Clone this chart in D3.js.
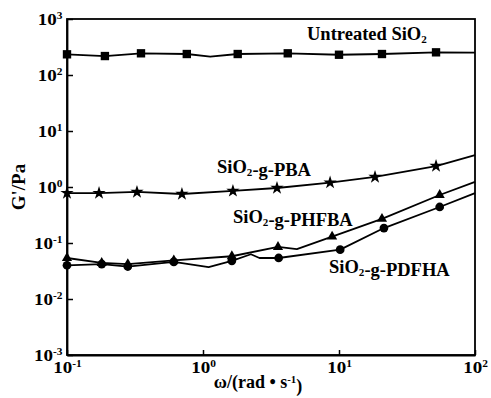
<!DOCTYPE html>
<html>
<head>
<meta charset="utf-8">
<script src="https://cdn.jsdelivr.net/npm/d3@7"></script>
<style>
  html, body { margin: 0; padding: 0; background: #fff; }
  svg { display: block; }
  text { font-family: "Liberation Serif", "DejaVu Serif", serif; fill: #000; }
</style>
</head>
<body>
<svg id="chart" width="491" height="398"></svg>
<script>
// ---- data ----
const xTicks = [0.1, 1, 10, 100];
const yTicks = [1e-3, 1e-2, 1e-1, 1, 10, 100, 1000];

// Untreated SiO2 (squares)
const untreatedOmega = [0.1, 0.19, 0.35, 0.76, 1.8, 4.2, 10, 20.7, 51.7];
const untreatedG     = [234, 218, 244, 237, 237, 244, 230, 237, 254];
const untreatedLineOmega = [1.13, 100];
const untreatedLineG     = [212, 250];

// SiO2-g-PBA (stars)
const pbaOmega = [0.1, 0.172, 0.327, 0.70, 1.66, 3.5, 8.6, 18.4, 51.7];
const pbaG     = [0.78, 0.78, 0.815, 0.75, 0.85, 0.96, 1.2, 1.51, 2.37];
const pbaLineOmega = [100];
const pbaLineG     = [3.72];

// SiO2-g-PHFBA (triangles)
const phfbaOmega = [0.1, 0.18, 0.28, 0.61, 1.63, 3.56, 8.9, 20.7, 55];
const phfbaG     = [0.054, 0.044, 0.042, 0.049, 0.058, 0.085, 0.13, 0.27, 0.72];
const phfbaLineOmega = [4.9, 100];
const phfbaLineG     = [0.078, 1.23];

// SiO2-g-PDFHA (circles)
const pdfhaOmega = [0.1, 0.18, 0.28, 0.61, 1.63, 3.6, 10.2, 21.4, 55];
const pdfhaG     = [0.040, 0.042, 0.038, 0.046, 0.048, 0.054, 0.076, 0.185, 0.44];
const pdfhaLineOmega = [1.1, 2.25, 2.6, 100];
const pdfhaLineG     = [0.037, 0.063, 0.054, 0.78];

// ---- chart ----
const svg = d3.select("#chart");
const W = 491, H = 398;
const m = { left: 67, right: 16, top: 19, bottom: 43 };
const x = d3.scaleLog().domain([0.1, 100]).range([m.left, W - m.right]);
const y = d3.scaleLog().domain([1e-3, 1e3]).range([H - m.bottom, m.top]);

svg.append("rect").attr("width", W).attr("height", H).attr("fill", "#fff");

const supLabel = (sel, exp) => {
  sel.text(null);
  sel.append("tspan").text("10");
  sel.append("tspan").attr("dy", "-0.55em").attr("font-size", "0.6em").text(exp);
};

// frame
svg.append("rect")
  .attr("x", x(0.1)).attr("y", y(1e3))
  .attr("width", x(100) - x(0.1)).attr("height", y(1e-3) - y(1e3))
  .attr("fill", "none").attr("stroke", "#000").attr("stroke-width", 1.8);

// x axis
const gx = svg.append("g").attr("transform", `translate(0,${y(1e-3)})`)
  .call(d3.axisBottom(x).tickValues(xTicks).tickSizeInner(-5).tickSizeOuter(0).tickPadding(6));
gx.select(".domain").attr("stroke-width", 1.8);
gx.selectAll(".tick line").attr("stroke-width", 1.5);
gx.selectAll(".tick text").attr("font-size", 17).attr("font-family", "Liberation Serif")
  .attr("font-weight", "bold").attr("transform", "scale(1.12,1)")
  .each(function(d) { supLabel(d3.select(this), String(Math.round(Math.log10(d)))); });

// y axis
const gy = svg.append("g").attr("transform", `translate(${x(0.1)},0)`)
  .call(d3.axisLeft(y).tickValues(yTicks).tickSizeInner(-6).tickSizeOuter(0).tickPadding(4));
gy.select(".domain").attr("stroke-width", 1.8);
gy.selectAll(".tick line").attr("stroke-width", 1.5);
gy.selectAll(".tick text").attr("font-size", 17).attr("font-family", "Liberation Serif")
  .attr("font-weight", "bold").attr("transform", "scale(1.12,1)")
  .attr("dy", "0.3em")
  .each(function(d) { supLabel(d3.select(this), String(Math.round(Math.log10(d)))); });

// axis titles
const xt = svg.append("text").attr("x", 258).attr("y", 388)
  .attr("text-anchor", "middle").attr("font-size", 18).attr("font-weight", "bold");
xt.append("tspan").text("ω/(rad • s");
xt.append("tspan").attr("dy", "-0.5em").attr("font-size", "0.6em").text("-1");
xt.append("tspan").attr("dy", "0.5em").text(")");

svg.append("text").attr("transform", "translate(25,187) rotate(-90)")
  .attr("text-anchor", "middle").attr("font-size", 19).attr("font-weight", "bold").text("G'/Pa");

// series
const series = [
  { o: untreatedOmega, g: untreatedG, lo: untreatedLineOmega, lg: untreatedLineG, sym: d3.symbolSquare, size: 70 },
  { o: pbaOmega, g: pbaG, lo: pbaLineOmega, lg: pbaLineG, sym: d3.symbolStar, size: 55 },
  { o: phfbaOmega, g: phfbaG, lo: phfbaLineOmega, lg: phfbaLineG, sym: d3.symbolTriangle, size: 45 },
  { o: pdfhaOmega, g: pdfhaG, lo: pdfhaLineOmega, lg: pdfhaLineG, sym: d3.symbolCircle, size: 60 }
];
const line = d3.line().x(d => x(d[0])).y(d => y(d[1]));

series.forEach(s => {
  const marks = s.o.map((v, i) => [v, s.g[i]]);
  const extra = s.lo.map((v, i) => [v, s.lg[i]]);
  const pts = marks.concat(extra).sort((a, b) => a[0] - b[0]);
  svg.append("path").attr("d", line(pts)).attr("fill", "none")
    .attr("stroke", "#000").attr("stroke-width", 1.8).attr("stroke-linejoin", "round");
  svg.append("g").selectAll("path").data(marks).join("path")
    .attr("transform", d => `translate(${x(d[0])},${y(d[1])})`)
    .attr("d", d3.symbol().type(s.sym).size(s.size))
    .attr("fill", "#000");
});

// series labels
const lab = (tx, ty, parts) => {
  const t = svg.append("text").attr("x", tx).attr("y", ty)
    .attr("font-size", 18.5).attr("font-weight", "bold");
  parts.forEach(p => {
    if (p.sub) {
      t.append("tspan").attr("dy", "0.3em").attr("font-size", "0.6em").text(p.t);
      t.append("tspan").attr("dy", "-0.3em").text("");
    } else t.append("tspan").text(p.t);
  });
};
lab(307, 40, [{ t: "Untreated SiO" }, { t: "2", sub: true }]);
lab(217, 173, [{ t: "SiO" }, { t: "2", sub: true }, { t: "-g-PBA" }]);
lab(233, 223, [{ t: "SiO" }, { t: "2", sub: true }, { t: "-g-PHFBA" }]);
lab(329, 273, [{ t: "SiO" }, { t: "2", sub: true }, { t: "-g-PDFHA" }]);
</script>
</body>
</html>
